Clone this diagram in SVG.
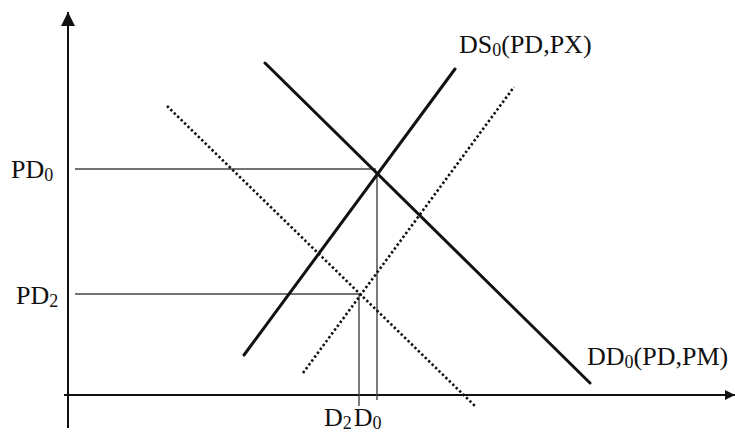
<svg xmlns="http://www.w3.org/2000/svg" width="735" height="435" viewBox="0 0 735 435">
<style>
text{font-family:"Liberation Serif","Times New Roman",serif;font-size:26px;fill:#111}
.sub{font-size:18px}
.axis{stroke:#111;stroke-width:2;fill:none}
.solid{stroke:#111;stroke-width:3;fill:none;stroke-linecap:round}
.dot{stroke:#111;stroke-width:2.6;fill:none;stroke-dasharray:2.4 2.4}
.guide{stroke:#444;stroke-width:1.4;fill:none}
</style>
<defs>
<marker id="ah" viewBox="0 0 10 10" refX="10" refY="5" markerWidth="10" markerHeight="10" markerUnits="userSpaceOnUse" orient="auto">
<path d="M0,0 L10,5 L0,10 z" fill="#111"/>
</marker>
<marker id="ahy" viewBox="0 0 14 14" refX="14" refY="7" markerWidth="14" markerHeight="14" markerUnits="userSpaceOnUse" orient="auto">
<path d="M0,0 L14,7 L0,14 z" fill="#111"/>
</marker>
</defs>
<g id="axes">
<line class="axis" x1="68" y1="428" x2="68" y2="12" marker-end="url(#ahy)"/>
<line class="axis" x1="64" y1="395" x2="735" y2="395" marker-end="url(#ah)"/>
</g>
<g id="connectors">
<line class="guide" x1="75" y1="169" x2="376" y2="169"/>
<line class="guide" x1="75" y1="294" x2="360" y2="294" stroke="#222"/>
<line class="guide" x1="377" y1="176" x2="377" y2="400"/>
<line class="guide" x1="359" y1="294" x2="359" y2="406" stroke="#222"/>
<line class="solid" x1="244" y1="355" x2="455" y2="69"/>
<line class="solid" x1="265" y1="63" x2="590" y2="383"/>
<line class="dot" x1="303" y1="373" x2="514" y2="87"/>
<line class="dot" x1="167" y1="106" x2="475" y2="406"/>
</g>
<g id="labels">
<text x="11" y="178">PD<tspan class="sub" dy="3">0</tspan></text>
<text x="16" y="304">PD<tspan class="sub" dy="3">2</tspan></text>
<text x="459" y="53">DS<tspan class="sub" dy="3">0</tspan><tspan dy="-3">(PD,PX)</tspan></text>
<text x="587" y="365">DD<tspan class="sub" dy="3">0</tspan><tspan dy="-3">(PD,PM)</tspan></text>
<text x="324" y="426">D<tspan class="sub" dy="3">2</tspan><tspan dy="-3" dx="2">D</tspan><tspan class="sub" dy="3">0</tspan></text>
</g>
</svg>
